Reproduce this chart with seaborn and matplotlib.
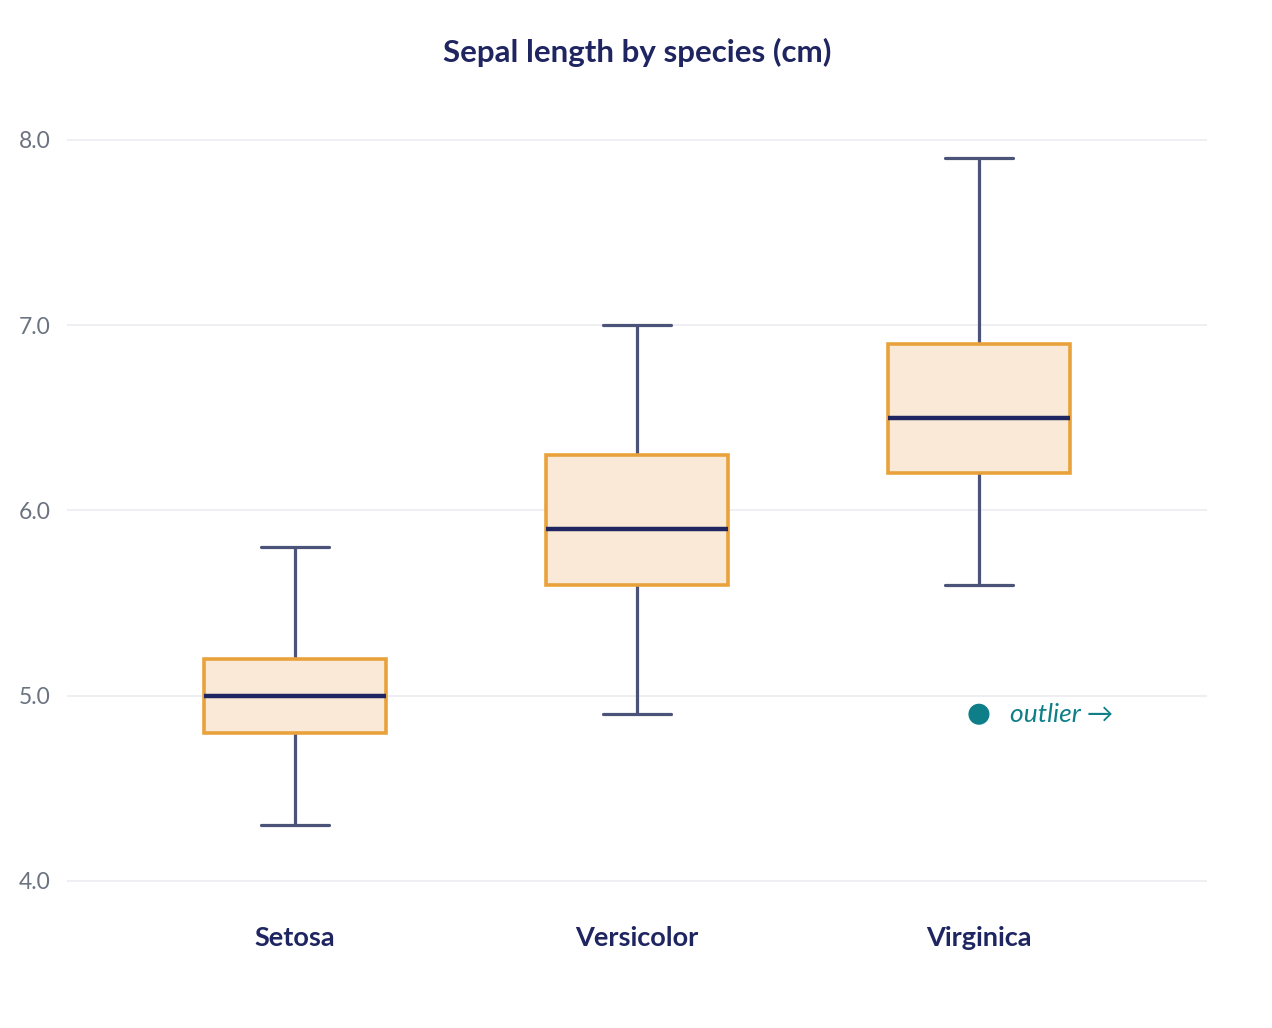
import numpy as np
import pandas as pd
import matplotlib
matplotlib.use("Agg")
import matplotlib.pyplot as plt
import seaborn as sns

# box statistics: min, q1, median, q3, max
species = ["Setosa", "Versicolor", "Virginica"]
setosa = [4.3, 4.8, 5.0, 5.2, 5.8]
versicolor = [4.9, 5.6, 5.9, 6.3, 7.0]
virginica = [5.6, 6.2, 6.5, 6.9, 7.9]
outlier_species = ["Virginica"]
outlier_values = [4.9]
yticks = [4.0, 5.0, 6.0, 7.0, 8.0]

NAVY = "#1F2561"
ORANGE = "#E9A23B"
FILL = "#FAE9D6"
SLATE = "#4B5478"
TEAL = "#0E7E88"
GRID = "#EEEEF2"
TICK = "#6B7280"

sns.set_theme(style="white")
plt.rcParams["font.family"] = ["Lato", "DejaVu Sans"]

df = pd.DataFrame({
    "species": np.repeat(species, 5),
    "length": setosa + versicolor + virginica,
})
out_df = pd.DataFrame({"species": outlier_species, "length": outlier_values})

fig = plt.figure(figsize=(12.72, 10.28), dpi=100)
ax = fig.add_axes([0.0527, 0.134, 0.8962, 0.739])

for y in yticks:
    ax.axhline(y, color=GRID, lw=1.3, zorder=0)

sns.boxplot(
    data=df, x="species", y="length", order=species, ax=ax,
    whis=(0, 100), width=0.53, capwidths=0.2, linewidth=2.2,
    boxprops=dict(facecolor=FILL, edgecolor=ORANGE, linewidth=2.6, zorder=3),
    medianprops=dict(color=NAVY, linewidth=3.2, zorder=4),
    whiskerprops=dict(color=SLATE, linewidth=2.3),
    capprops=dict(color=SLATE, linewidth=2.3),
    showfliers=False,
)

# outlier drawn on its own, with a note
sns.scatterplot(data=out_df, x="species", y="length", ax=ax, color=TEAL,
                s=230, edgecolor="none", zorder=5)
ax.text(2.09, outlier_values[0], "outlier \u2192", color=TEAL, fontsize=19,
        style="italic", va="center", ha="left", family=["Lato", "DejaVu Sans"])

ax.set_xlim(-0.667, 2.667)
ax.set_ylim(3.95, 8.05)
ax.set_yticks(yticks)
ax.set_yticklabels([f"{v:.1f}" for v in yticks])
ax.set_xlabel("")
ax.set_ylabel("")
ax.tick_params(axis="y", length=0, pad=12, labelsize=16.5, labelcolor=TICK)
ax.tick_params(axis="x", length=0, pad=26, labelsize=19.5, labelcolor=NAVY)
for lab in ax.get_xticklabels():
    lab.set_fontweight("bold")
for s in ax.spines.values():
    s.set_visible(False)

fig.text(0.5008, 1 - 52 / 1028, "Sepal length by species (cm)", ha="center",
         va="center", fontsize=22.5, fontweight="bold", color=NAVY)

fig.savefig("out.png", dpi=100, facecolor="white")
